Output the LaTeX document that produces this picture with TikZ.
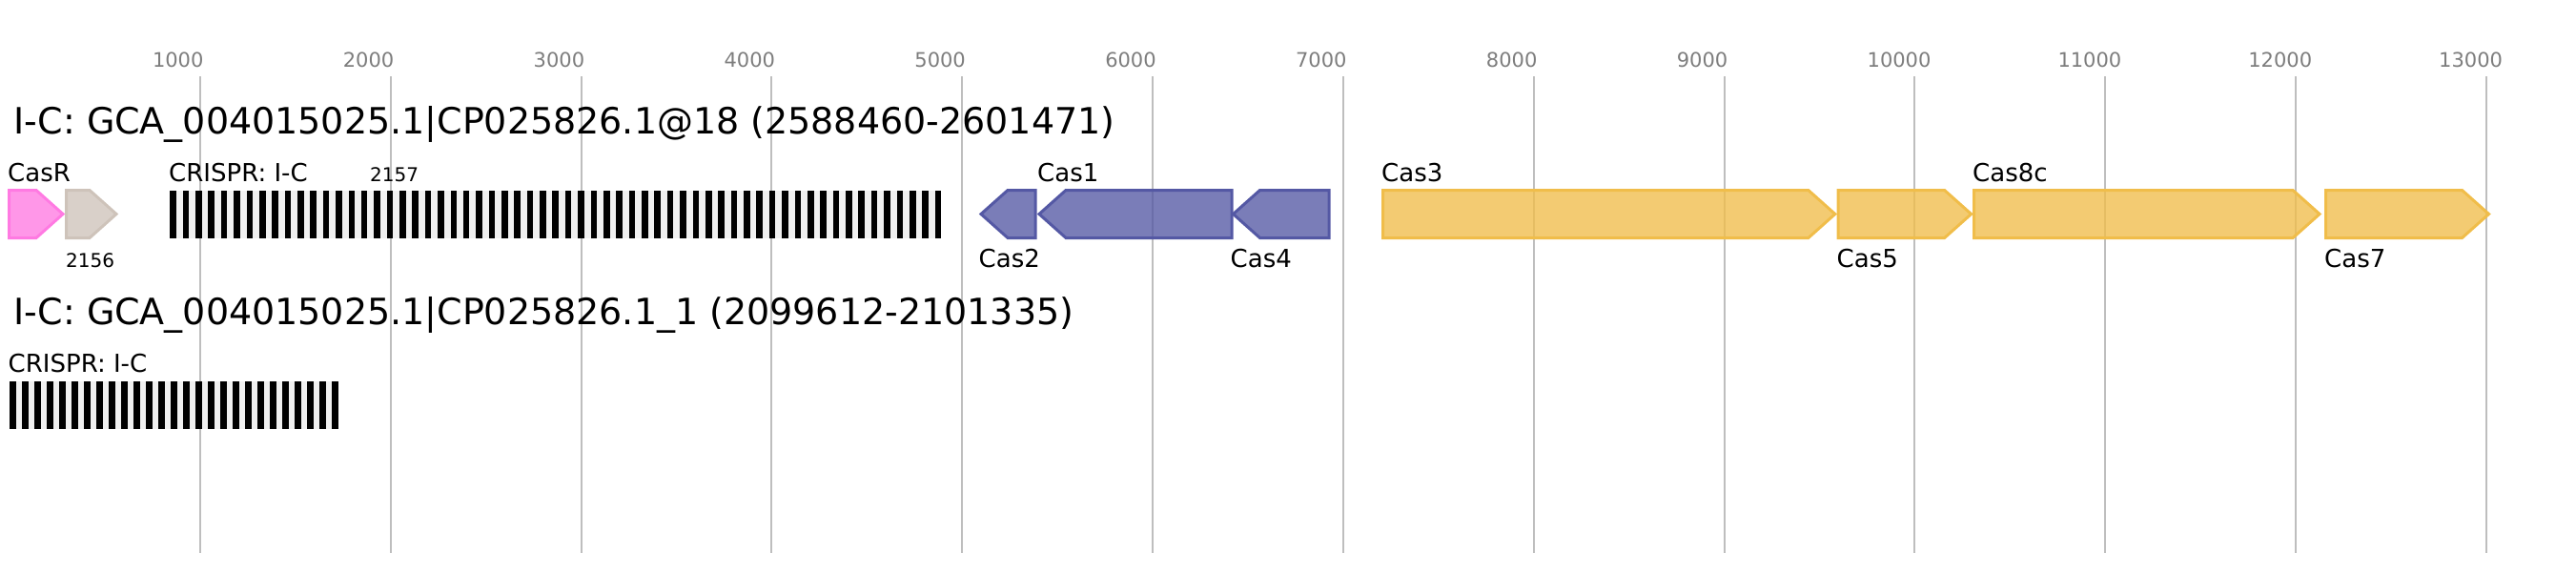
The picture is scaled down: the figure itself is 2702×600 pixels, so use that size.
\documentclass[tikz,border=0pt]{standalone}
\usepackage{fontspec}
\setmainfont{DejaVu Sans}
\definecolor{casrpink}{RGB}{255,122,226}
\definecolor{unkgray}{RGB}{206,195,186}
\definecolor{casblue}{RGB}{84,88,164}
\definecolor{casyellow}{RGB}{240,189,74}
\definecolor{spacergray}{RGB}{240,240,240}
\definecolor{gridgray}{RGB}{190,190,190}
\definecolor{ticktext}{RGB}{125,125,125}
% gene arrows: #1 left end, #2 tip / right end, #3 style
\newcommand{\fwdgene}[3]{\draw[#3] (#1,199.5) -- ({#2-28},199.5) -- (#2,224.5) -- ({#2-28},249.5) -- (#1,249.5) -- cycle;}
\newcommand{\revgene}[3]{\draw[#3] (#2,199.5) -- ({#1+28},199.5) -- (#1,224.5) -- ({#1+28},249.5) -- (#2,249.5) -- cycle;}
\begin{document}
\begin{tikzpicture}[x=1pt,y=-1pt,
	every node/.style={inner sep=0pt,anchor=base west},
	titlelbl/.style={font=\fontsize{38}{40}\selectfont},
	genelbl/.style={font=\fontsize{26}{28}\selectfont},
	smalllbl/.style={font=\fontsize{20}{22}\selectfont},
	ticklbl/.style={font=\fontsize{21}{23}\selectfont,text=ticktext},
	tickline/.style={draw=gridgray,line width=2pt},
	genebox/.style={line width=3pt,fill opacity=0.78},
	pinkgene/.style={genebox,draw=casrpink,fill=casrpink},
	graygene/.style={genebox,draw=unkgray,fill=unkgray},
	bluegene/.style={genebox,draw=casblue,fill=casblue},
	yellowgene/.style={genebox,draw=casyellow,fill=casyellow}]
\useasboundingbox (0,0) rectangle (2702,600);
% ruler
\foreach \n in {1,...,13} {
	\pgfmathsetmacro\tx{209.8+199.85*(\n-1)}
	\draw[tickline] (\tx,80) -- (\tx,580);
	\node[ticklbl] (tick\n) at ({\tx-50},70) {\n000};
}
% locus 1
\node[titlelbl] (title1) at (14.5,140) {I-C: GCA\_004015025.1|CP025826.1@18 (2588460-2601471)};
\fwdgene{9.5}{66}{pinkgene}
\fwdgene{69.5}{122}{graygene}
\fill[spacergray] (178.3,200) rectangle (987.3,250);
\foreach \i in {0,...,60}
	\fill[black] ({178.3+13.373*\i},200) rectangle ++(6.6,50);
\revgene{1029}{1086}{bluegene}
\revgene{1090}{1292.2}{bluegene}
\revgene{1293.5}{1394}{bluegene}
\fwdgene{1450.5}{1924.8}{yellowgene}
\fwdgene{1928}{2067.6}{yellowgene}
\fwdgene{2070.5}{2433}{yellowgene}
\fwdgene{2439.5}{2610.5}{yellowgene}
\node[genelbl] (casR) at (8,190) {CasR};
\node[smalllbl] (g2156) at (69,280) {2156};
\node[genelbl] (crispr1) at (177,190) {CRISPR: I-C};
\node[smalllbl] (g2157) at (388,190) {2157};
\node[genelbl] (cas2) at (1026.5,280) {Cas2};
\node[genelbl] (cas1) at (1088,190) {Cas1};
\node[genelbl] (cas4) at (1290.5,280) {Cas4};
\node[genelbl] (cas3) at (1449,190) {Cas3};
\node[genelbl] (cas5) at (1926.5,280) {Cas5};
\node[genelbl] (cas8c) at (2069,190) {Cas8c};
\node[genelbl] (cas7) at (2438,280) {Cas7};
% locus 2
\node[titlelbl] (title2) at (14.5,340) {I-C: GCA\_004015025.1|CP025826.1\_1 (2099612-2101335)};
\node[genelbl] (crispr2) at (8.5,390) {CRISPR: I-C};
\fill[spacergray] (10,400) rectangle (355,450);
\foreach \i in {0,...,26}
	\fill[black] ({10+13*\i},400) rectangle ++(6.7,50);
\end{tikzpicture}
\end{document}
